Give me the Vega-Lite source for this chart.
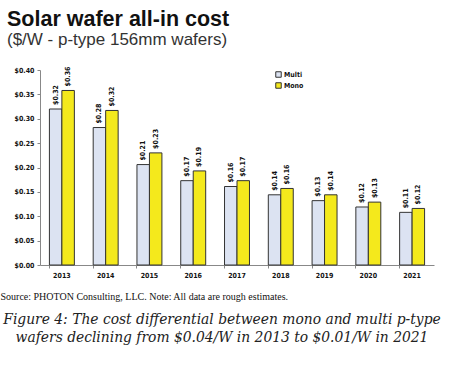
{
  "$schema": "https://vega.github.io/schema/vega-lite/v6.json",
  "background": "white",
  "padding": {"left": 0, "top": 8, "right": 0, "bottom": 0},
  "title": {
    "text": ["Figure 4: The cost differential between mono and multi p-type", "wafers declining from $0.04/W in 2013 to $0.01/W in 2021"],
    "orient": "bottom",
    "anchor": "middle",
    "frame": "group",
    "dx": -15,
    "font": "DejaVu Serif Condensed, DejaVu Serif, serif",
    "fontStyle": "italic",
    "fontWeight": "normal",
    "fontSize": 15.4,
    "lineHeight": 17.5,
    "color": "#222",
    "offset": 11
  },
  "vconcat": [
    {
      "width": 394,
      "height": 195,
      "title": {
        "text": "Solar wafer all-in cost",
        "subtitle": "($/W - p-type 156mm wafers)",
        "anchor": "start",
        "frame": "group",
        "dx": -33,
        "font": "Liberation Sans",
        "fontSize": 21.5,
        "fontWeight": "bold",
        "color": "#111",
        "subtitleFont": "Liberation Sans",
        "subtitleFontSize": 17,
        "subtitleColor": "#333",
        "subtitlePadding": 2,
        "offset": 18
      },
      "data": {
        "values": [
          {"year": "2013", "type": "Multi", "cost": 0.32},
          {"year": "2013", "type": "Mono", "cost": 0.358},
          {"year": "2014", "type": "Multi", "cost": 0.282},
          {"year": "2014", "type": "Mono", "cost": 0.317},
          {"year": "2015", "type": "Multi", "cost": 0.206},
          {"year": "2015", "type": "Mono", "cost": 0.23},
          {"year": "2016", "type": "Multi", "cost": 0.173},
          {"year": "2016", "type": "Mono", "cost": 0.193},
          {"year": "2017", "type": "Multi", "cost": 0.161},
          {"year": "2017", "type": "Mono", "cost": 0.173},
          {"year": "2018", "type": "Multi", "cost": 0.144},
          {"year": "2018", "type": "Mono", "cost": 0.157},
          {"year": "2019", "type": "Multi", "cost": 0.132},
          {"year": "2019", "type": "Mono", "cost": 0.144},
          {"year": "2020", "type": "Multi", "cost": 0.119},
          {"year": "2020", "type": "Mono", "cost": 0.129},
          {"year": "2021", "type": "Multi", "cost": 0.108},
          {"year": "2021", "type": "Mono", "cost": 0.116}
        ]
      },
      "encoding": {
        "x": {
          "field": "year",
          "type": "ordinal",
          "scale": {"paddingInner": 0.43, "paddingOuter": 0.215},
          "axis": {
            "labelAngle": 0,
            "labelFont": "Liberation Sans Narrow, DejaVu Sans Condensed, sans-serif",
            "labelFontSize": 7,
            "labelFontWeight": "bold",
            "labelColor": "#111",
            "labelPadding": 3,
            "bandPosition": 0,
            "tickSize": 3,
            "tickColor": "#888",
            "domainColor": "#888",
            "title": "Source: PHOTON Consulting, LLC. Note: All data are rough estimates.",
            "titleFont": "Liberation Serif",
            "titleFontSize": 10,
            "titleFontWeight": "normal",
            "titleColor": "#111",
            "titleAlign": "left",
            "titleAnchor": "start",
            "titleBaseline": "alphabetic",
            "titleX": -40,
            "titleY": 34
          }
        },
        "xOffset": {"field": "type", "type": "nominal", "sort": ["Multi", "Mono"], "scale": {"paddingInner": 0}},
        "y": {
          "field": "cost",
          "type": "quantitative",
          "scale": {"domain": [0, 0.4]},
          "axis": {
            "values": [0, 0.05, 0.1, 0.15, 0.2, 0.25, 0.3, 0.35, 0.4],
            "format": "$.2f",
            "grid": false,
            "title": null,
            "labelFont": "Liberation Sans Narrow, DejaVu Sans Condensed, sans-serif",
            "labelFontSize": 7,
            "labelFontWeight": "bold",
            "labelColor": "#111",
            "labelPadding": 3,
            "tickSize": 3,
            "tickColor": "#888",
            "domainColor": "#888"
          }
        }
      },
      "layer": [
        {
          "mark": {"type": "bar", "stroke": "#333", "strokeWidth": 1},
          "encoding": {
            "color": {
              "field": "type",
              "type": "nominal",
              "sort": ["Multi", "Mono"],
              "scale": {"domain": ["Multi", "Mono"], "range": ["#dce3f2", "#f4e91c"]},
              "legend": {
                "orient": "none",
                "legendX": 235,
                "legendY": 1,
                "title": null,
                "symbolType": "square",
                "symbolSize": 30,
                "symbolStrokeColor": "#333",
                "symbolStrokeWidth": 1,
                "labelFont": "Liberation Sans Narrow, DejaVu Sans Condensed, sans-serif",
                "labelFontSize": 7,
                "labelFontWeight": "bold",
                "labelColor": "#111",
                "labelOffset": 2,
                "rowPadding": 0
              }
            }
          }
        },
        {
          "mark": {
            "type": "text",
            "angle": 270,
            "align": "left",
            "baseline": "middle",
            "dx": 4,
            "font": "Liberation Sans Narrow, DejaVu Sans Condensed, sans-serif",
            "fontSize": 7,
            "fontWeight": "bold",
            "color": "#111"
          },
          "encoding": {
            "text": {"field": "cost", "type": "quantitative", "format": "$.2f"}
          }
        }
      ]
    }
  ],
  "config": {"view": {"stroke": null}}
}
